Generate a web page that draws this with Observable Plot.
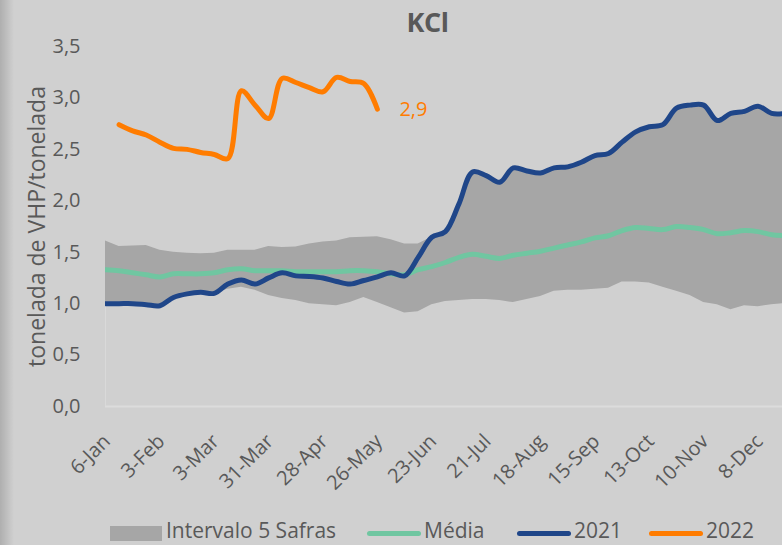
<!DOCTYPE html>
<html>
<head>
<meta charset="utf-8">
<script src="https://cdn.jsdelivr.net/npm/d3@7"></script>
<script src="https://cdn.jsdelivr.net/npm/@observablehq/plot@0.6"></script>
<style>
  html, body { margin: 0; padding: 0; }
  body { width: 782px; height: 545px; overflow: hidden; position: relative; background: #d0d0d0; font-family: "Open Sans", "Noto Sans", sans-serif; color: #595959; }
  #chart { position: absolute; left: 0; top: 0; }
  #title { position: absolute; top: 3px; left: 0; width: 855px; text-align: center; font-weight: bold; font-size: 27px; color: #595959; letter-spacing: -0.5px; }
  .leg-txt { position: absolute; top: 516px; font-size: 21px; line-height: normal; color: #595959; white-space: nowrap; }
  .leg-sw { position: absolute; }
  #shade { position: absolute; left: 0; top: 0; width: 14px; height: 545px; background: linear-gradient(to right, rgba(0,0,0,0.16), rgba(0,0,0,0)); }
</style>
</head>
<body>
<div id="shade"></div>
<div id="chart"></div>
<div id="title">KCl</div>
<div id="legend"></div>
<script>
// Week index 0 = 6-Jan, one point per week
const weeks = d3.range(51);

const xTickWeeks = [0, 4, 8, 12, 16, 20, 24, 28, 32, 36, 40, 44, 48];
const xTickLabels = ["6-Jan", "3-Feb", "3-Mar", "31-Mar", "28-Apr", "26-May", "23-Jun", "21-Jul", "18-Aug", "15-Sep", "13-Oct", "10-Nov", "8-Dec"];
const yTicks = [0, 0.5, 1, 1.5, 2, 2.5, 3, 3.5];

// Intervalo 5 Safras (min / max)
const bandMin = [1.00, 1.00, 0.99, 0.98, 0.97, 1.04, 1.08, 1.09, 1.10, 1.14, 1.16, 1.13, 1.08, 1.05, 1.03, 1.00, 0.99, 0.98, 1.01, 1.06,
                 1.01, 0.96, 0.91, 0.92, 0.99, 1.02, 1.03, 1.04, 1.04, 1.03, 1.01, 1.04, 1.07, 1.12, 1.13, 1.13, 1.14, 1.15, 1.21, 1.21,
                 1.20, 1.16, 1.12, 1.08, 1.01, 0.99, 0.94, 0.98, 0.97, 0.99, 1.00];
const bandMax = [1.61, 1.555, 1.56, 1.565, 1.52, 1.50, 1.49, 1.485, 1.49, 1.52, 1.52, 1.52, 1.555, 1.545, 1.55, 1.58, 1.60, 1.61, 1.64, 1.645,
                 1.65, 1.62, 1.58, 1.58, 1.645, 1.70, 1.97, 2.28, 2.245, 2.18, 2.32, 2.29, 2.27, 2.32, 2.33, 2.375, 2.44, 2.46, 2.57, 2.67,
                 2.72, 2.74, 2.90, 2.93, 2.93, 2.78, 2.85, 2.87, 2.92, 2.85, 2.85];

// Média
const media = [1.33, 1.32, 1.30, 1.28, 1.26, 1.29, 1.29, 1.29, 1.30, 1.33, 1.34, 1.32, 1.32, 1.32, 1.31, 1.31, 1.31, 1.31, 1.32, 1.32,
               1.31, 1.29, 1.28, 1.33, 1.36, 1.40, 1.45, 1.48, 1.46, 1.44, 1.47, 1.49, 1.51, 1.54, 1.57, 1.60, 1.64, 1.66, 1.71, 1.74,
               1.73, 1.72, 1.75, 1.74, 1.72, 1.68, 1.69, 1.71, 1.70, 1.67, 1.66];

// 2021
const y2021 = [1.00, 1.00, 1.00, 0.99, 0.98, 1.06, 1.095, 1.11, 1.10, 1.19, 1.23, 1.19, 1.25, 1.30, 1.27, 1.265, 1.25, 1.215, 1.19, 1.225,
               1.26, 1.30, 1.27, 1.45, 1.645, 1.70, 1.97, 2.28, 2.245, 2.18, 2.32, 2.29, 2.27, 2.32, 2.33, 2.375, 2.44, 2.46, 2.57, 2.67,
               2.72, 2.74, 2.90, 2.93, 2.93, 2.78, 2.85, 2.87, 2.92, 2.85, 2.85];

// 2022 (starts at week 1 = 13-Jan)
const start2022 = 1;
const y2022 = [2.74, 2.68, 2.64, 2.57, 2.51, 2.50, 2.47, 2.45, 2.41, 3.07, 2.93, 2.80, 3.19, 3.15, 3.10, 3.06, 3.20, 3.16, 3.14, 2.89];

const band = weeks.map(w => ({w, lo: bandMin[w], hi: bandMax[w]}));
const mediaData = weeks.map(w => ({w, v: media[w]}));
const d2021 = weeks.map(w => ({w, v: y2021[w]}));
const d2022 = y2022.map((v, i) => ({w: start2022 + i, v}));
const last2022 = [d2022[d2022.length - 1]];
const xTicks = xTickWeeks.map((w, i) => ({w, label: xTickLabels[i]}));

const fmt = v => d3.format(".1f")(v).replace(".", ",");

const C_BAND = "#a6a6a6", C_MEDIA = "#70c6a1", C_2021 = "#1f4689", C_2022 = "#ff7c00", C_TXT = "#595959";

const chart = Plot.plot({
  width: 782,
  height: 510,
  marginTop: 46,
  marginBottom: 104,
  marginLeft: 105,
  marginRight: 0,
  style: {background: "transparent", color: C_TXT, fontFamily: "'Open Sans', 'Noto Sans', sans-serif", overflow: "visible"},
  x: {type: "linear", domain: [0, 49.8], axis: null},
  y: {domain: [0, 3.5], axis: null},
  marks: [
    Plot.areaY(band, {x: "w", y1: "lo", y2: "hi", fill: C_BAND, curve: "linear", clip: true}),
    Plot.ruleY([0], {stroke: "#dcdcdc", strokeWidth: 2}),
    Plot.ruleX([0], {y1: 0, y2: bandMin[0], stroke: "#d9d9d9", strokeWidth: 1}),
    Plot.line(mediaData, {x: "w", y: "v", stroke: C_MEDIA, strokeWidth: 5, curve: "catmull-rom", strokeLinecap: "round", strokeLinejoin: "round", clip: true}),
    Plot.line(d2021, {x: "w", y: "v", stroke: C_2021, strokeWidth: 5, curve: "catmull-rom", strokeLinecap: "round", strokeLinejoin: "round", clip: true}),
    Plot.line(d2022, {x: "w", y: "v", stroke: C_2022, strokeWidth: 5, curve: "catmull-rom", strokeLinecap: "round", strokeLinejoin: "round"}),
    Plot.text(last2022, {x: "w", y: "v", text: d => fmt(d.v), fill: C_2022, textAnchor: "start", dx: 22, fontSize: 20}),
    Plot.text(yTicks, {frameAnchor: "left", y: d => d, text: d => fmt(d), textAnchor: "end", dx: -25, fontSize: 20, fill: C_TXT}),
    Plot.text(xTicks, {x: "w", frameAnchor: "bottom", text: "label", rotate: -45, textAnchor: "end", dx: 6, dy: 36, fontSize: 20, fill: C_TXT}),
    Plot.text(["tonelada de VHP/tonelada"], {frameAnchor: "left", rotate: -90, textAnchor: "middle", dx: -68, fontSize: 23, fill: C_TXT})
  ]
});
document.getElementById("chart").appendChild(chart);

// Legend
const legendItems = [
  {label: "Intervalo 5 Safras", kind: "rect", color: C_BAND, x0: 110, x1: 162, tx: 166},
  {label: "Média", kind: "line", color: C_MEDIA, x0: 367, x1: 421, tx: 424},
  {label: "2021", kind: "line", color: C_2021, x0: 517, x1: 571, tx: 574},
  {label: "2022", kind: "line", color: C_2022, x0: 649, x1: 703, tx: 706}
];
const legend = document.getElementById("legend");
for (const it of legendItems) {
  const sw = document.createElement("div");
  sw.className = "leg-sw";
  sw.style.left = it.x0 + "px";
  sw.style.width = (it.x1 - it.x0) + "px";
  sw.style.background = it.color;
  if (it.kind === "rect") { sw.style.top = "526px"; sw.style.height = "15px"; }
  else { sw.style.top = "531px"; sw.style.height = "5px"; sw.style.borderRadius = "3px"; }
  legend.appendChild(sw);
  const t = document.createElement("div");
  t.className = "leg-txt";
  t.style.left = it.tx + "px";
  t.textContent = it.label;
  legend.appendChild(t);
}
</script>
</body>
</html>
